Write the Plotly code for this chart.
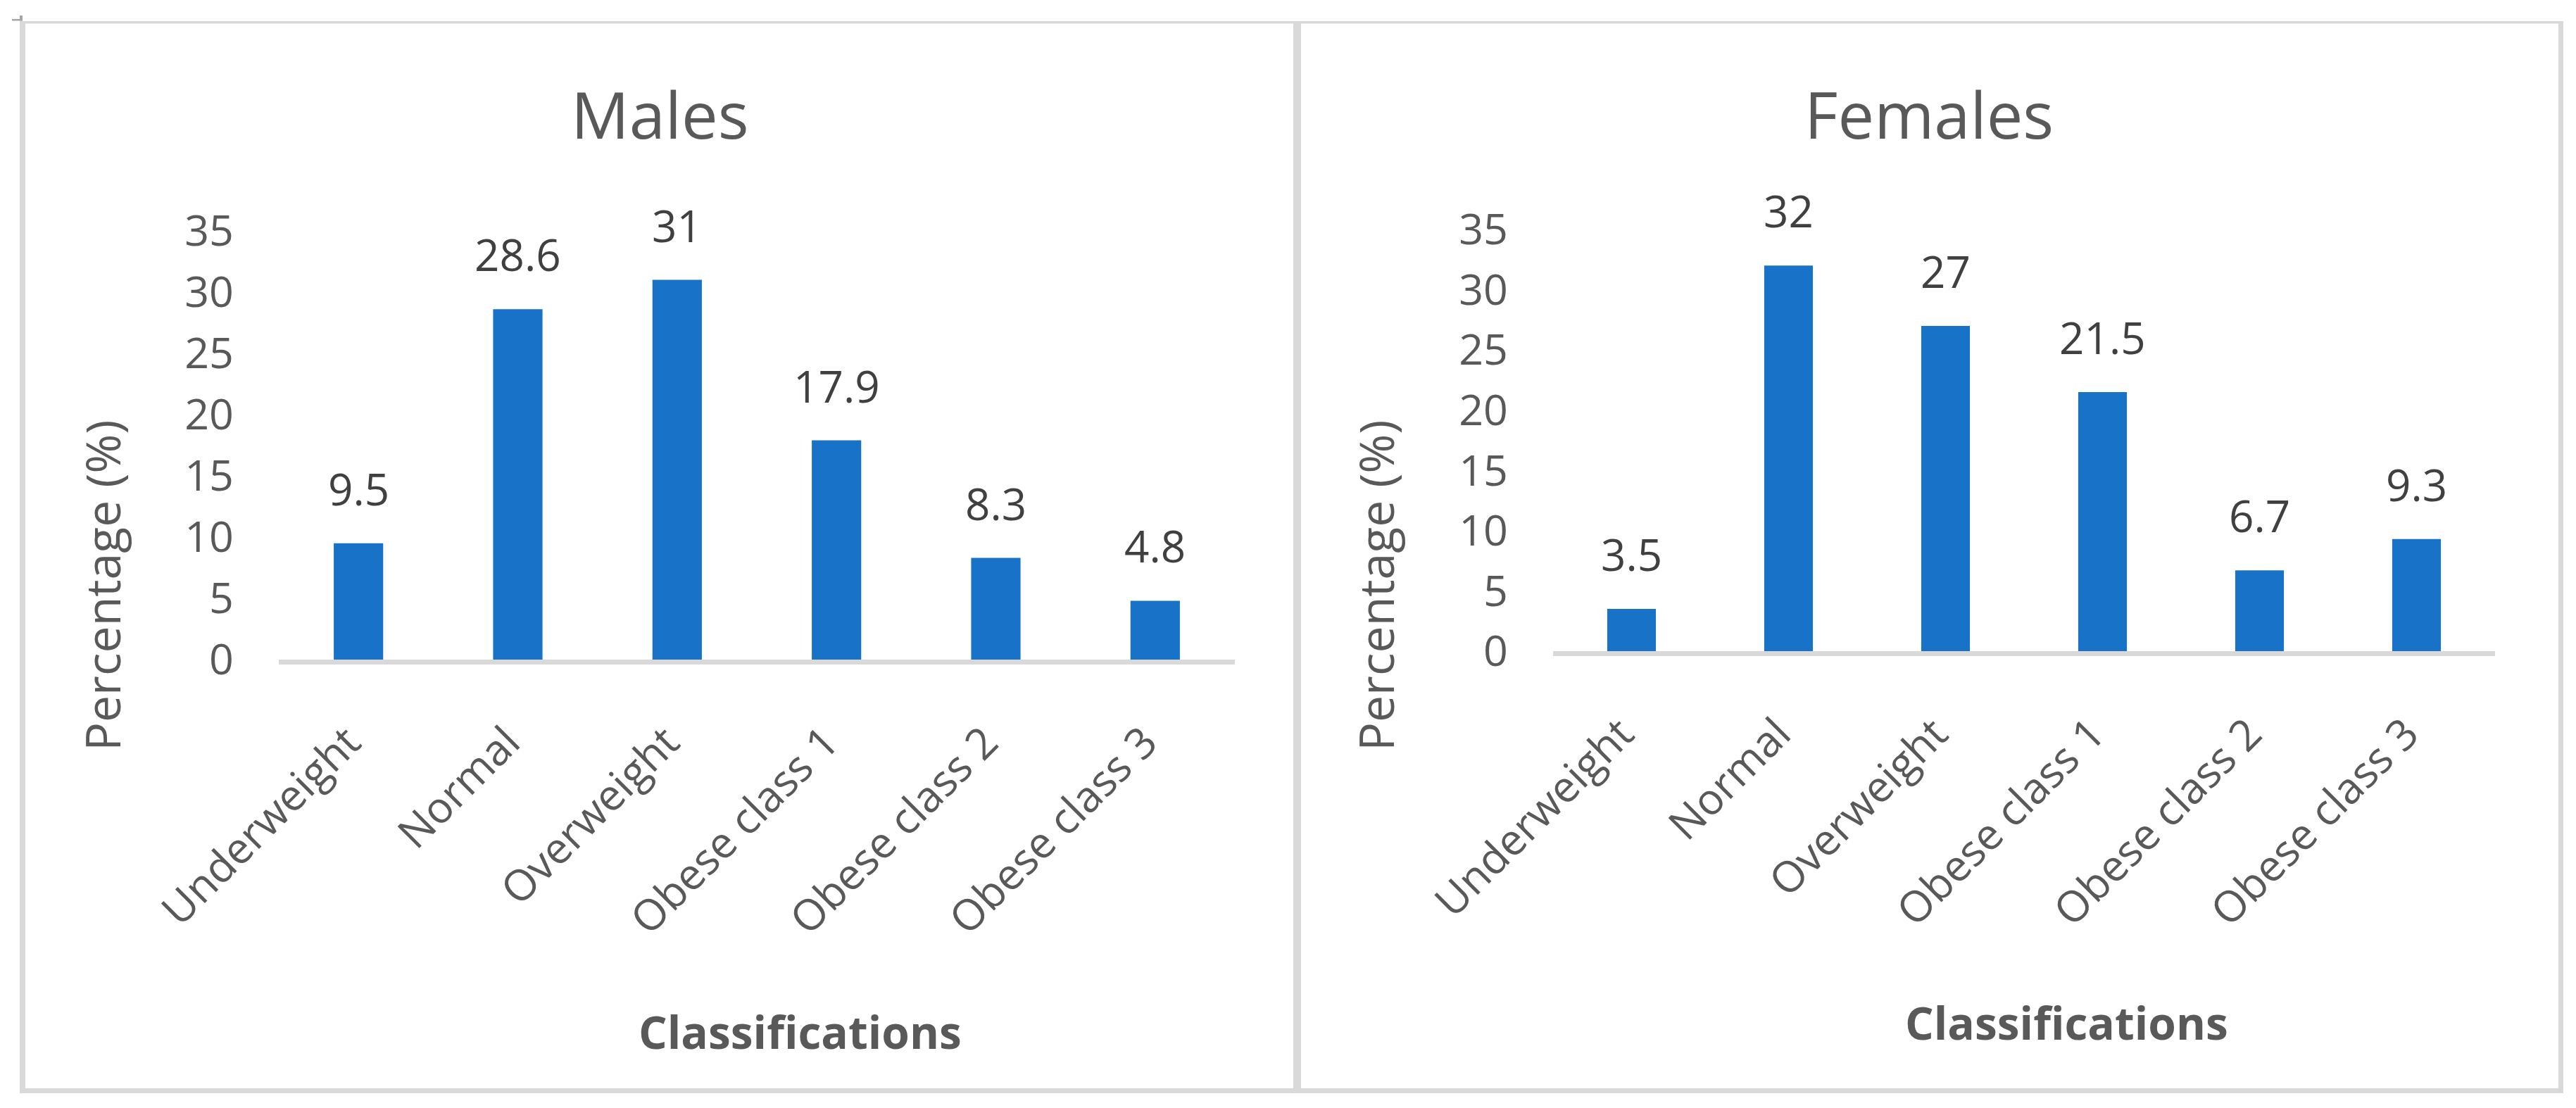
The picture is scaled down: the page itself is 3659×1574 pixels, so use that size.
import plotly.graph_objects as go

# ---------------- data ----------------
categories = ["Underweight", "Normal", "Overweight", "Obese class 1", "Obese class 2", "Obese class 3"]
males = [9.5, 28.6, 31, 17.9, 8.3, 4.8]
females = [3.5, 32, 27, 21.5, 6.7, 9.3]
y_ticks = [0, 5, 10, 15, 20, 25, 30, 35]
panel_titles = ["Males", "Females"]
x_title = "Classifications"
y_title = "Percentage (%)"

# ---------------- layout constants ----------------
W, H = 3659, 1574
FONT = "Open Sans"
BAR = "#1872C8"
GREY = "#595959"
LABEL = "#404040"
BORDER = "#D9D9D9"


def fx(p):
    return p / W


def fy(p):
    return 1 - p / H


fig = go.Figure()

panels = [
    dict(vals=males, xa="x", ya="y",
         title_xy=(938, 161), ytitle_xy=(144, 832), xtitle_xy=(1136, 1465)),
    dict(vals=females, xa="x2", ya="y2",
         title_xy=(2740, 161), ytitle_xy=(1953, 832), xtitle_xy=(2935, 1452)),
]

annotations = []
for i, p in enumerate(panels):
    fig.add_trace(go.Bar(
        x=categories, y=p["vals"], xaxis=p["xa"], yaxis=p["ya"],
        marker=dict(color=BAR, line=dict(width=0)),
        hoverinfo="x+y", showlegend=False,
    ))
    # data labels above the bars
    for c, v in zip(categories, p["vals"]):
        annotations.append(dict(
            x=c, y=v, xref=p["xa"], yref=p["ya"], text=f"{v:g}",
            showarrow=False, yanchor="bottom", xanchor="center", yshift=34,
            font=dict(family=FONT, size=62, color=LABEL),
        ))
    # panel title
    annotations.append(dict(
        x=fx(p["title_xy"][0]), y=fy(p["title_xy"][1]), xref="paper", yref="paper",
        text=panel_titles[i], showarrow=False, xanchor="center", yanchor="middle",
        font=dict(family=FONT, size=92, color=GREY),
    ))
    # y-axis title
    annotations.append(dict(
        x=fx(p["ytitle_xy"][0]), y=fy(p["ytitle_xy"][1]), xref="paper", yref="paper",
        text=y_title, showarrow=False, textangle=-90, xanchor="center", yanchor="middle",
        font=dict(family=FONT, size=68, color=GREY),
    ))
    # x-axis title
    annotations.append(dict(
        x=fx(p["xtitle_xy"][0]), y=fy(p["xtitle_xy"][1]), xref="paper", yref="paper",
        text=f"<b>{x_title}</b>", showarrow=False, xanchor="center", yanchor="middle",
        font=dict(family=FONT, size=64, color=GREY),
    ))

xaxis_common = dict(
    type="category", showgrid=False, zeroline=False, showline=True,
    linecolor=BORDER, linewidth=7, ticks="", tickangle=-45,
    tickfont=dict(family=FONT, size=61, color=GREY),
    ticklabelstandoff=50, ticklabelshift=-15,
    fixedrange=True, automargin=False,
)
yaxis_common = dict(
    range=[0, 35], tickvals=y_ticks, showgrid=False, zeroline=False, showline=False,
    ticks="", tickfont=dict(family=FONT, size=61, color=GREY), ticklabelstandoff=63,
    fixedrange=True, automargin=False,
)

shapes = []
# panel borders
for (x0, y0, x1, y1) in [
    (28, 30, 3641, 33.5),
    (28, 1546, 3641, 1553),
    (28, 30, 36, 1553),
    (1837, 30, 1848, 1553),
    (3634, 30, 3641, 1553),
]:
    shapes.append(dict(type="rect", xref="paper", yref="paper",
                       x0=fx(x0), x1=fx(x1), y0=fy(y0), y1=fy(y1),
                       fillcolor=BORDER, line=dict(width=0), layer="below"))
# small corner mark at top-left
for (x0, y0, x1, y1) in [(17, 27, 32, 29.5), (28, 22, 32, 29.5)]:
    shapes.append(dict(type="rect", xref="paper", yref="paper",
                       x0=fx(x0), x1=fx(x1), y0=fy(y0), y1=fy(y1),
                       fillcolor="#A6A6A6", line=dict(width=0)))

fig.update_layout(
    template="none",
    width=W, height=H,
    margin=dict(l=0, r=0, t=0, b=0, pad=0, autoexpand=False),
    paper_bgcolor="white", plot_bgcolor="white",
    bargap=0.69, showlegend=False,
    font=dict(family=FONT, color=GREY),
    xaxis=dict(domain=[fx(396), fx(1754)], anchor="y", **xaxis_common),
    yaxis=dict(domain=[fy(937), fy(328)], anchor="x", **yaxis_common),
    xaxis2=dict(domain=[fx(2206), fx(3544)], anchor="y2", **xaxis_common),
    yaxis2=dict(domain=[fy(925), fy(326)], anchor="x2", **yaxis_common),
    annotations=annotations,
    shapes=shapes,
)

fig.write_html(
    "out.html",
    config={"displayModeBar": False},
    post_script="document.body.style.margin='0px';document.body.style.overflow='hidden';",
)
